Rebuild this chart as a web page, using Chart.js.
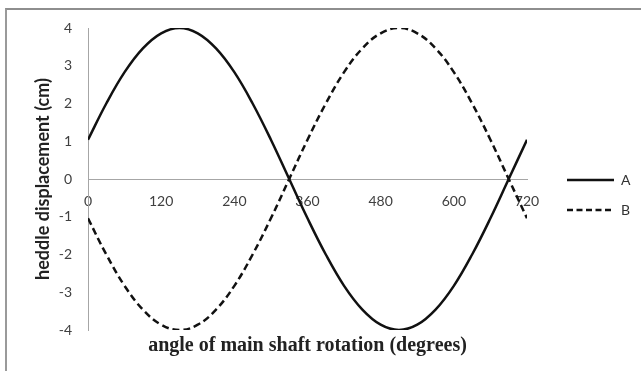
<!DOCTYPE html>
<html>
<head>
<meta charset="utf-8">
<script src="https://cdn.jsdelivr.net/npm/chart.js@4.4.1/dist/chart.umd.min.js"></script>
<style>
	html, body { margin: 0; padding: 0; background: #fff; }
	#wrap { position: relative; width: 641px; height: 371px; }
	#frame {
		position: absolute; left: 5px; top: 8px; width: 700px; height: 400px;
		border-left: 2px solid #9a9a9a; border-top: 2px solid #8e8e8e; pointer-events: none;
	}
</style>
</head>
<body>
<div id="wrap">
	<canvas id="chart" width="641" height="371"></canvas>
	<div id="frame"></div>
</div>
<script>
// values, every 30 degrees of shaft rotation
const angles = [0, 30, 60, 90, 120, 150, 180, 210, 240, 270, 300, 330, 360,
	390, 420, 450, 480, 510, 540, 570, 600, 630, 660, 690, 720];
const heddleA = [1.04, 2.0, 2.83, 3.46, 3.86, 4.0, 3.86, 3.46, 2.83, 2.0, 1.04, 0, -1.04,
	-2.0, -2.83, -3.46, -3.86, -4.0, -3.86, -3.46, -2.83, -2.0, -1.04, 0, 1.04];
const heddleB = [-1.04, -2.0, -2.83, -3.46, -3.86, -4.0, -3.86, -3.46, -2.83, -2.0, -1.04, 0, 1.04,
	2.0, 2.83, 3.46, 3.86, 4.0, 3.86, 3.46, 2.83, 2.0, 1.04, 0, -1.04];
const seriesNames = ['A', 'B'];
const xTitle = 'angle of main shaft rotation (degrees)';
const yTitle = 'heddle displacement (cm)';

const toPoints = (ys) => angles.map((a, i) => ({ x: a, y: ys[i] }));

// legend sits further right than chart.js puts it
const legendShift = {
	id: 'legendShift',
	afterLayout(c) {
		c.legend.left += 24;
		c.legend.right += 24;
	},
};

const ctx = document.getElementById('chart').getContext('2d');

const chart = new Chart(ctx, {
	type: 'line',
	data: {
		datasets: [
			{
				label: seriesNames[0],
				data: toPoints(heddleA),
				borderColor: '#111',
				borderWidth: 2.5,
				pointRadius: 0,
				tension: 0.4,
				fill: false,
			},
			{
				label: seriesNames[1],
				data: toPoints(heddleB),
				borderColor: '#111',
				borderWidth: 2.5,
				borderDash: [7, 4],
				pointRadius: 0,
				tension: 0.4,
				fill: false,
			},
		],
	},
	plugins: [legendShift],
	options: {
		responsive: false,
		animation: false,
		layout: { padding: { left: 32, top: 28, right: 0, bottom: 9 } },
		plugins: {
			legend: {
				position: 'right',
				labels: {
					usePointStyle: true,
					pointStyle: 'line',
					pointStyleWidth: 47,
					padding: 16,
					color: '#333',
					font: { family: 'Lato', size: 14 },
					// point style legend loses the dash, put it back from the dataset
					generateLabels: (c) => {
						const items = Chart.defaults.plugins.legend.labels.generateLabels(c);
						items.forEach((it) => {
							const ds = c.data.datasets[it.datasetIndex];
							it.lineDash = ds.borderDash ? [6, 3.5] : [];
							it.lineWidth = 2.5;
							it.strokeStyle = '#111';
						});
						return items;
					},
				},
			},
			title: {
				display: true,
				position: 'bottom',
				fullSize: false,
				text: xTitle,
				color: '#222',
				font: { family: 'Liberation Serif', size: 20, weight: 'bold' },
				padding: { top: 4, bottom: 4 },
			},
			tooltip: { enabled: false },
		},
		scales: {
			x: {
				type: 'linear',
				position: { y: 0 },
				min: 0,
				max: 720,
				afterFit: (scale) => {
					scale.height = 0;
					scale.paddingRight = 114;
				},
				grid: { display: false, drawTicks: false },
				border: { display: true, color: '#a6a6a6', width: 1 },
				ticks: {
					stepSize: 120,
					padding: 14,
					color: '#404040',
					font: { family: 'Lato', size: 14 },
				},
			},
			y: {
				min: -4,
				max: 4,
				afterFit: (scale) => {
					scale.width = 56;
				},
				grid: { display: false, drawTicks: false },
				border: { display: true, color: '#a6a6a6', width: 1 },
				ticks: {
					stepSize: 1,
					padding: 16,
					color: '#404040',
					font: { family: 'Lato', size: 14 },
				},
				title: {
					display: true,
					text: yTitle,
					color: '#222',
					font: { family: 'Lato', size: 18, weight: 'bold' },
					padding: { top: 0, bottom: 6 },
				},
			},
		},
	},
});
</script>
</body>
</html>
